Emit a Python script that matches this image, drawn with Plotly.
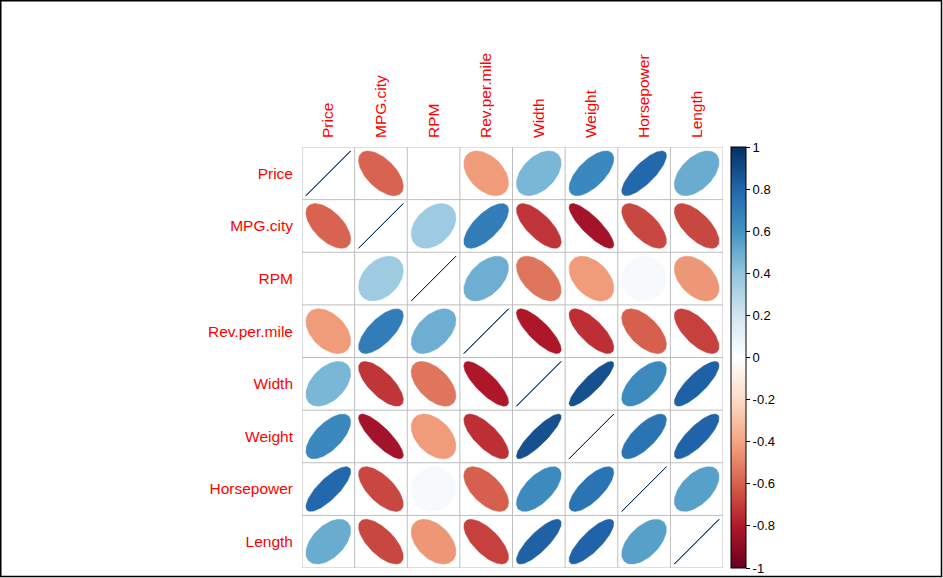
import numpy as np
import plotly.graph_objects as go

# ---- data ----
variables = ["Price", "MPG.city", "RPM", "Rev.per.mile", "Width", "Weight", "Horsepower", "Length"]
corr = [
    [1.00, -0.59, -0.005, -0.43, 0.46, 0.65, 0.79, 0.50],
    [-0.59, 1.00, 0.36, 0.70, -0.72, -0.84, -0.67, -0.67],
    [-0.005, 0.36, 1.00, 0.49, -0.54, -0.43, 0.037, -0.44],
    [-0.43, 0.70, 0.49, 1.00, -0.81, -0.74, -0.60, -0.69],
    [0.46, -0.72, -0.54, -0.81, 1.00, 0.88, 0.64, 0.82],
    [0.65, -0.84, -0.43, -0.74, 0.88, 1.00, 0.74, 0.81],
    [0.79, -0.67, 0.037, -0.60, 0.64, 0.74, 1.00, 0.55],
    [0.50, -0.67, -0.44, -0.69, 0.82, 0.81, 0.55, 1.00],
]
cbar_ticks = [-1, -0.8, -0.6, -0.4, -0.2, 0, 0.2, 0.4, 0.6, 0.8, 1]
cbar_labels = ["-1", "-0.8", "-0.6", "-0.4", "-0.2", "0", "0.2", "0.4", "0.6", "0.8", "1"]
rdbu = ["#67001F", "#B2182B", "#D6604D", "#F4A582", "#FDDBC7", "#FFFFFF",
        "#D1E5F0", "#92C5DE", "#4393C3", "#2166AC", "#053061"]

# ---- helpers ----
def hex2rgb(h):
    h = h.lstrip("#")
    return [int(h[i:i + 2], 16) for i in (0, 2, 4)]

anchors = [hex2rgb(c) for c in rdbu]

def color_for(r):
    t = (r + 1) / 2 * (len(anchors) - 1)
    i = min(int(np.floor(t)), len(anchors) - 2)
    f = t - i
    c = [round(anchors[i][k] + (anchors[i + 1][k] - anchors[i][k]) * f) for k in range(3)]
    return "rgb(%d,%d,%d)" % tuple(c)

def ellipse(rho, n=99):
    k = np.linspace(0, 2 * np.pi, n)
    d = np.arccos(np.clip(rho, -1, 1))
    x = np.cos(k + d / 2) / 2 * 0.85
    y = np.cos(k - d / 2) / 2 * 0.85
    return x, y

nvar = len(variables)
fig = go.Figure()

for i in range(nvar):
    for j in range(nvar):
        r = corr[i][j]
        ex, ey = ellipse(r)
        col = color_for(r)
        fig.add_trace(go.Scatter(
            x=(j + 1) + ex,
            y=(i + 1) - ey,  # y axis reversed
            mode="lines",
            fill="toself",
            fillcolor=col,
            line=dict(color=col, width=1 if abs(r) > 0.999 else 0.5),
            hoverinfo="skip",
            showlegend=False,
        ))

W, H = 943, 578
L, R, T, B = 302, 220, 147, 10
pw, ph = W - L - R, H - T - B

# colorbar carrier
colorscale = [[k / (len(rdbu) - 1), c] for k, c in enumerate(rdbu)]
fig.add_trace(go.Scatter(
    x=[None, None], y=[None, None], mode="markers",
    marker=dict(color=[-1, 1], cmin=-1, cmax=1, colorscale=colorscale, showscale=True,
                colorbar=dict(
                    x=(731 - L) / pw, xanchor="left", xpad=0,
                    y=0.5, yanchor="middle", len=1.0, lenmode="fraction", ypad=0,
                    thickness=15, thicknessmode="pixels",
                    outlinewidth=1, outlinecolor="black",
                    tickmode="array", tickvals=cbar_ticks, ticktext=cbar_labels,
                    ticks="outside", ticklen=4, tickcolor="black", tickwidth=1,
                    tickfont=dict(family="Arial, Liberation Sans", size=13, color="black"),
                )),
    hoverinfo="skip", showlegend=False,
))

# grid lines
shapes = []
for g in range(nvar + 1):
    p = g + 0.5
    shapes.append(dict(type="line", xref="x", yref="y", x0=p, x1=p, y0=0.5, y1=nvar + 0.5,
                       line=dict(color="#BEBEBE", width=1), layer="below"))
    shapes.append(dict(type="line", xref="x", yref="y", y0=p, y1=p, x0=0.5, x1=nvar + 0.5,
                       line=dict(color="#BEBEBE", width=1), layer="below"))
# outer image border
shapes.append(dict(type="rect", xref="paper", yref="paper",
                   x0=(0.75 - L) / pw, x1=(941.5 - L) / pw,
                   y0=(H - B - 576.5) / ph, y1=(H - B - 0.75) / ph,
                   line=dict(color="black", width=1.5)))

font_fam = "Arial, Liberation Sans"
fig.update_layout(
    width=W, height=H,
    margin=dict(l=L, r=R, t=T, b=B, pad=0),
    paper_bgcolor="white", plot_bgcolor="white",
    shapes=shapes,
    xaxis=dict(range=[0.5, nvar + 0.5], tickmode="array", tickvals=list(range(1, nvar + 1)),
               ticktext=variables, side="top", tickangle=-90, showgrid=False, zeroline=False,
               showline=False, ticks="", ticklabelstandoff=8,
               tickfont=dict(family=font_fam, size=15.5, color="red"), fixedrange=True),
    yaxis=dict(range=[nvar + 0.5, 0.5], tickmode="array", tickvals=list(range(1, nvar + 1)),
               ticktext=variables, showgrid=False, zeroline=False, showline=False, ticks="",
               ticklabelstandoff=8,
               tickfont=dict(family=font_fam, size=15.5, color="red"), fixedrange=True),
)

fig.write_html("out.html", config={"displayModeBar": False},
               post_script="document.body.style.margin='0';document.body.style.padding='0';")
